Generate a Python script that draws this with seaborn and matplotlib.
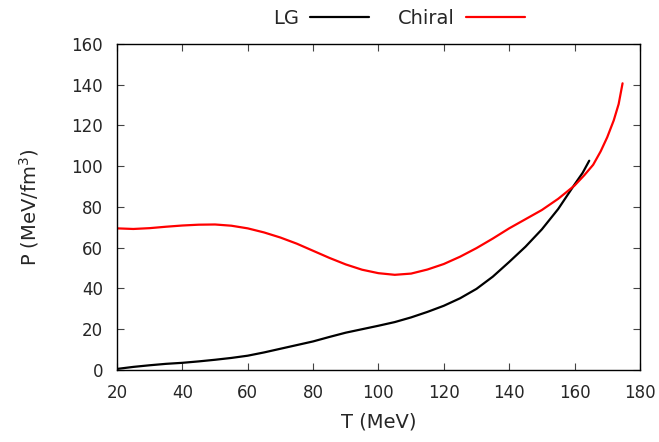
import pandas as pd
import matplotlib.pyplot as plt
import seaborn as sns


T_lg = [20, 25, 30, 35, 40, 45, 50, 55, 60, 65, 70, 75, 80, 85, 90, 95,
        100, 105, 110, 115, 120, 125, 130, 135, 140, 145, 150, 155, 160, 162.5, 164.5]
P_lg = [0.5, 1.5, 2.3, 3.0, 3.5, 4.2, 5.0, 5.9, 7.0, 8.6, 10.4, 12.2, 14.0, 16.2, 18.3, 20.0,
        21.7, 23.5, 25.8, 28.5, 31.5, 35.2, 39.8, 45.8, 53.0, 60.5, 69.0, 79.0, 91.0, 96.8, 102.7]

T_ch = [20, 25, 30, 35, 40, 45, 50, 55, 60, 65, 70, 75, 80, 85, 90, 95,
        100, 105, 110, 115, 120, 125, 130, 135, 140, 145, 150, 155, 160, 163, 165.7, 168,
        170, 172, 173.5, 174.7]
P_ch = [69.5, 69.2, 69.6, 70.3, 70.9, 71.3, 71.4, 70.8, 69.5, 67.5, 65.0, 62.0, 58.5, 55.0, 51.8, 49.2,
        47.5, 46.7, 47.3, 49.3, 52.0, 55.6, 59.8, 64.5, 69.5, 74.0, 78.5, 84.0, 90.5, 95.6, 100.7, 107.3,
        114.2, 122.5, 130.5, 140.7]

df = pd.concat([
    pd.DataFrame({"T": T_lg, "P": P_lg, "model": "LG"}),
    pd.DataFrame({"T": T_ch, "P": P_ch, "model": "Chiral"}),
])

sns.set_style("ticks")
plt.rcParams['font.family'] = ['DejaVu Sans']

fig = plt.figure(figsize=(6.59, 4.42), dpi=100)
ax = fig.add_axes([0.1775, 0.163, 0.7935, 0.7375])

sns.lineplot(data=df, x="T", y="P", hue="model", palette={"LG": "black", "Chiral": "red"},
             linewidth=1.6, sort=False, ax=ax)

ax.set_xlim(20, 180)
ax.set_ylim(0, 160)
ax.set_xticks(range(20, 181, 20))
ax.set_yticks(range(0, 161, 20))
ax.tick_params(direction="in", top=True, right=True, length=5, labelsize=12, color="#444444")
ax.tick_params(axis="x", pad=10)
ax.tick_params(axis="y", pad=10)
for s in ax.spines.values():
    s.set_linewidth(1.0)
    s.set_color("black")
    s.set_visible(True)

ax.set_xlabel("T (MeV)", fontsize=14, labelpad=8)
ax.set_ylabel("P (MeV/fm$^3$)", fontsize=14, labelpad=22)

handles, labels = ax.get_legend_handles_labels()
ax.legend(handles, labels, ncol=2, markerfirst=False, frameon=False, fontsize=14,
          loc="upper center", bbox_to_anchor=(0.605, 1.02), bbox_transform=fig.transFigure,
          handlelength=3.0, columnspacing=1.5, handletextpad=0.6)

plt.savefig("out.png", dpi=100)
